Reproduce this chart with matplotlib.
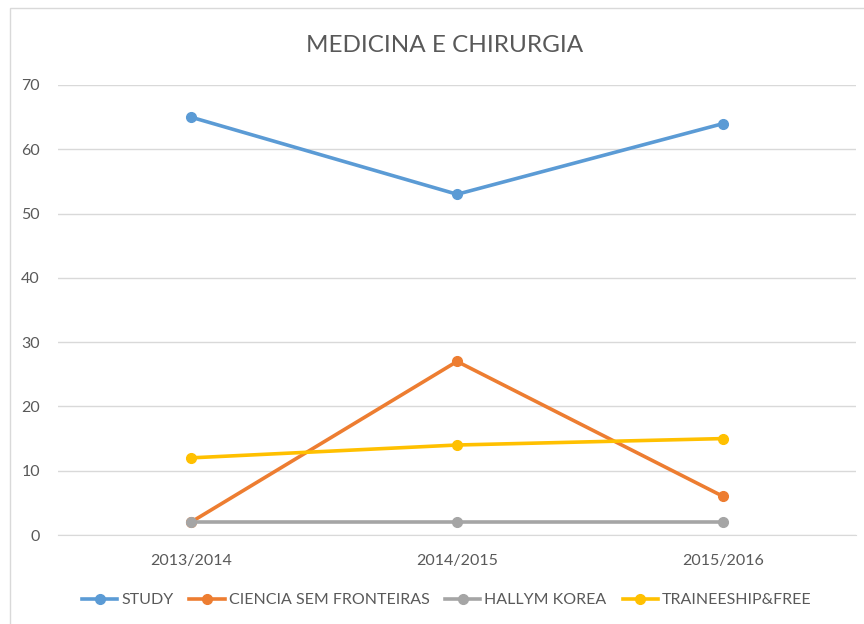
import numpy as np
import matplotlib
matplotlib.use('Agg')
import matplotlib.pyplot as plt
from matplotlib.patches import Rectangle

plt.rcParams['font.family'] = ['Lato', 'DejaVu Sans']

years = ['2013/2014', '2014/2015', '2015/2016']
study = [65, 53, 64]
ciencia = [2, 27, 6]
hallym = [2, 2, 2]
trainee = [12, 14, 15]

series = [('STUDY', study, '#5B9BD5'),
          ('CIENCIA SEM FRONTEIRAS', ciencia, '#ED7D31'),
          ('HALLYM KOREA', hallym, '#A5A5A5'),
          ('TRAINEESHIP&FREE', trainee, '#FFC000')]

fig = plt.figure(figsize=(8.64, 6.24), dpi=100)
ax = fig.add_axes([0.067, 0.1426, 0.924, 0.7212])

# chart frame
fig.patches.append(Rectangle((10/864, -0.1), 1.2, 1 - 8/624 + 0.1, transform=fig.transFigure,
                             fill=False, edgecolor='#D9D9D9', lw=1))

x = np.arange(len(years))
for name, vals, col in series:
    ax.plot(x, vals, '-o', color=col, lw=2.6, markersize=7, label=name)

ax.set_xlim(-0.5, 2.5)
ax.set_ylim(0, 70)
ax.set_yticks(np.arange(0, 71, 10))
ax.set_xticks(x)
ax.set_xticklabels(years)
ax.grid(axis='y', color='#D9D9D9', lw=1)
ax.set_axisbelow(True)
for s in ['top', 'right', 'left']:
    ax.spines[s].set_visible(False)
ax.spines['bottom'].set_color('#D9D9D9')
ax.tick_params(axis='both', length=0, labelsize=11.5, colors='#595959')
ax.tick_params(axis='y', pad=13)
ax.tick_params(axis='x', pad=14)

fig.text(0.515, 0.927, 'MEDICINA E CHIRURGIA', ha='center', va='center', fontsize=17.5, color='#595959')

leg = fig.legend(loc='center', bbox_to_anchor=(0.517, 0.038), ncol=4, frameon=False,
                 fontsize=11.5, handlelength=2.2, columnspacing=1.0, handletextpad=0.25)
for t in leg.get_texts():
    t.set_color('#595959')

fig.savefig('out.png', dpi=100)
